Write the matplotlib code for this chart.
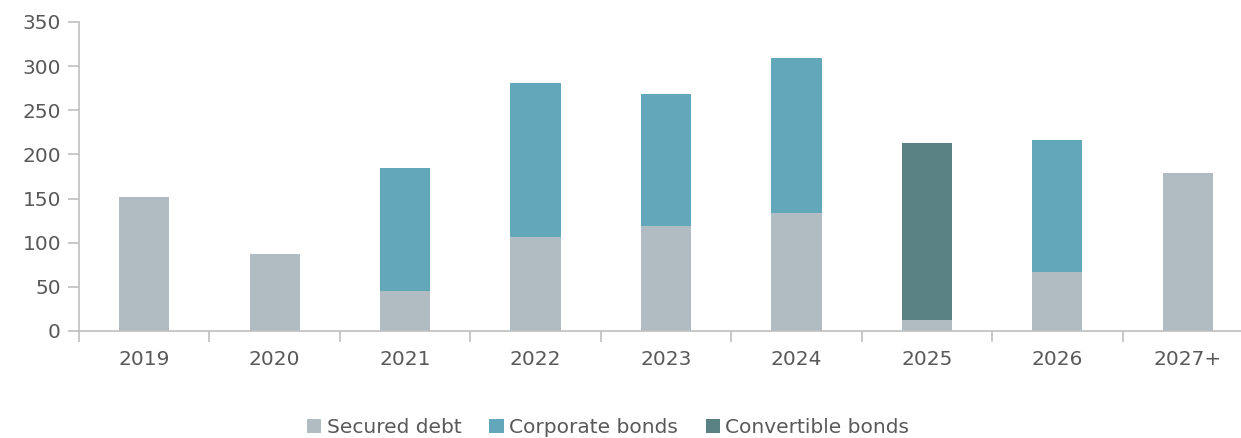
import numpy as np
import matplotlib.pyplot as plt
from matplotlib.ticker import FixedLocator

years = ['2019', '2020', '2021', '2022', '2023', '2024', '2025', '2026', '2027+']
secured = [152, 87, 45, 106, 119, 134, 12, 67, 179]
corporate = [0, 0, 140, 175, 149, 175, 0, 149, 0]
convertible = [0, 0, 0, 0, 0, 0, 201, 0, 0]

c_sec = '#B0BCC1'
c_corp = '#62A8BA'
c_conv = '#5A8183'
grey = '#BFBFBF'
txt = '#595959'

plt.rcParams['font.family'] = ['DejaVu Sans']

fig = plt.figure(figsize=(12.41, 4.38), dpi=100)
ax = fig.add_axes([0.0637, 0.2443, 0.946, 0.7055])

x = np.arange(len(years))
sec = np.array(secured)
corp = np.array(corporate)
conv = np.array(convertible)
w = 0.385
ax.bar(x, sec, w, color=c_sec, label='Secured debt')
ax.bar(x, corp, w, bottom=sec, color=c_corp, label='Corporate bonds')
ax.bar(x, conv, w, bottom=sec + corp, color=c_conv, label='Convertible bonds')

ax.set_xlim(-0.5, len(years) - 0.5)
ax.set_ylim(0, 350)
ax.set_yticks(np.arange(0, 351, 50))

ax.set_xticks(x)
ax.set_xticklabels(years)
ax.xaxis.set_minor_locator(FixedLocator(np.arange(-0.5, len(years), 1)))
ax.tick_params(axis='x', which='major', length=0, pad=14, labelsize=14.5, labelcolor=txt)
ax.tick_params(axis='x', which='minor', length=8, color=grey, width=1.2)
ax.tick_params(axis='y', length=8, color=grey, width=1.2, labelsize=14.5, labelcolor=txt, pad=5)

for s in ['top', 'right']:
    ax.spines[s].set_visible(False)
for s in ['left', 'bottom']:
    ax.spines[s].set_color(grey)
    ax.spines[s].set_linewidth(1.2)

leg = fig.legend(loc='center', bbox_to_anchor=(0.49, 0.023), ncol=3, frameon=False,
                 fontsize=14.5, handlelength=0.7, handleheight=0.7, handletextpad=0.25,
                 columnspacing=1.4, labelcolor=txt)

fig.savefig('out.png', dpi=100)
